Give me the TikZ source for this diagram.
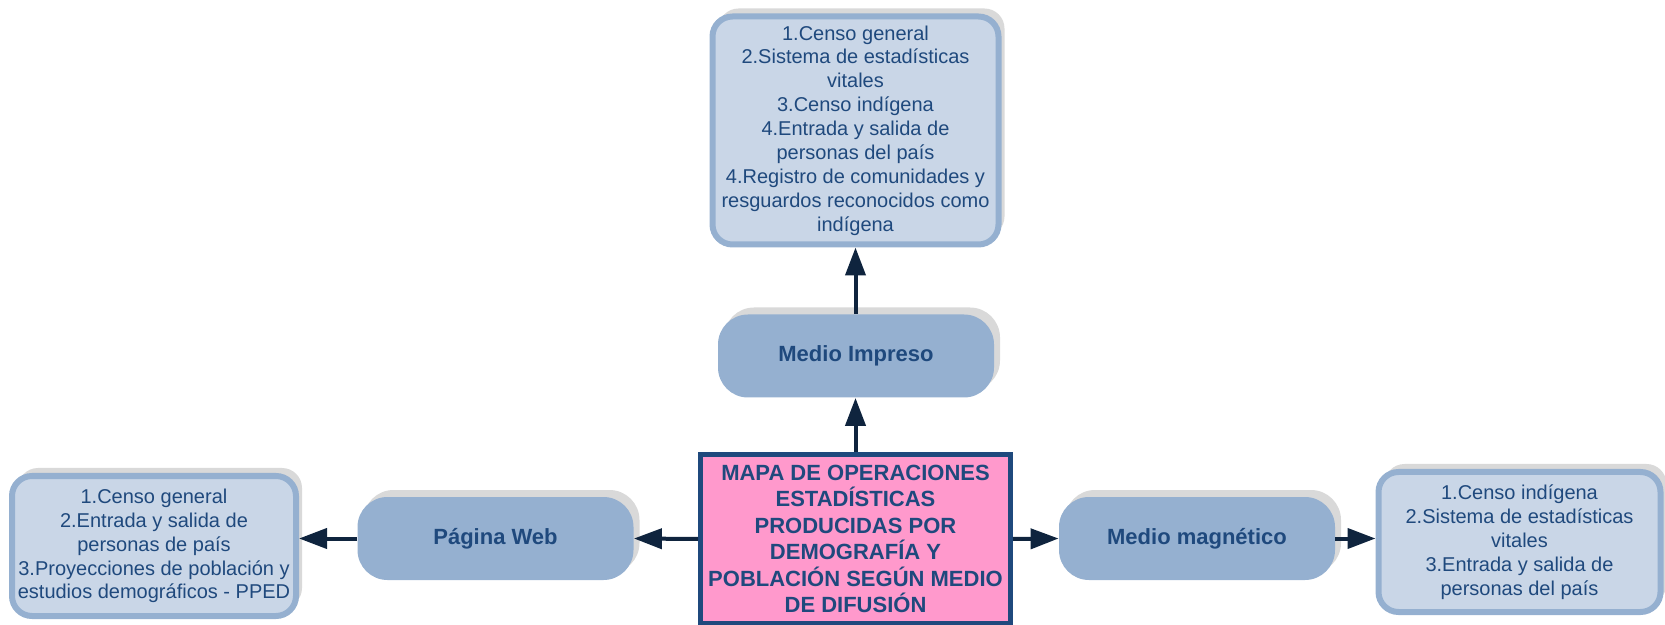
\documentclass[tikz,border=0pt]{standalone}
\usepackage{fontspec}
\setmainfont{Liberation Sans}
\usepackage{tikz}
\usetikzlibrary{arrows.meta}
\usetikzlibrary{shadows}

\definecolor{txtblue}{HTML}{1F497D}
\definecolor{navy}{HTML}{0F243E}
\definecolor{lightfill}{HTML}{C9D6E7}
\definecolor{midfill}{HTML}{95B0D0}
\definecolor{shgray}{HTML}{D9D9D9}
\definecolor{pinkfill}{HTML}{FF99CC}

\begin{document}
\begin{tikzpicture}[x=0.5pt,y=-0.5pt,
    listbox/.style={draw=midfill, line width=3pt, fill=lightfill, rounded corners=10pt,
      align=center, text=txtblue, inner sep=0pt, font=\fontsize{10}{11.95}\selectfont,
      drop shadow={shadow xshift=3pt, shadow yshift=4pt, fill=shgray, opacity=1}},
    mediobox/.style={fill=midfill, rounded corners=15pt, align=center, text=txtblue,
      font=\fontsize{11}{13}\selectfont\bfseries, inner sep=0pt,
      minimum width=138pt, minimum height=41.5pt,
      drop shadow={shadow xshift=3pt, shadow yshift=3.5pt, fill=shgray, opacity=1}},
    conn/.style={draw=navy, line width=2pt, -{Triangle[length=14pt,width=10pt]}}]
  \useasboundingbox (0,0) rectangle (1665,625);

  % centro
  \node[draw=txtblue, line width=2.5pt, fill=pinkfill, align=center, text=txtblue,
    font=\fontsize{11}{13.2}\selectfont\bfseries, inner sep=0pt,
    minimum width=155pt, minimum height=84pt] (mapa) at (855.5,539)
    {MAPA DE OPERACIONES\\ESTAD\'ISTICAS\\PRODUCIDAS POR\\DEMOGRAF\'IA Y\\POBLACI\'ON SEG\'UN MEDIO\\DE DIFUSI\'ON};

  % medios
  \node[mediobox] (impreso) at (856,356) {Medio Impreso};
  \node[mediobox] (web) at (495.5,538.5) {P\'agina Web};
  \node[mediobox] (magnetico) at (1197,538.5) {Medio magn\'etico};

  % listas
  \node[listbox, minimum width=143pt, minimum height=114pt] (impresolist) at (855.5,130.5)
    {1.Censo general\\2.Sistema de estad\'isticas\\vitales\\3.Censo ind\'igena\\4.Entrada y salida de\\personas del pa\'is\\4.Registro de comunidades y\\resguardos reconocidos como\\ind\'igena};
  \node[listbox, minimum width=142pt, minimum height=70pt] (weblist) at (154,546)
    {1.Censo general\\2.Entrada y salida de\\personas de pa\'is\\3.Proyecciones de poblaci\'on y\\estudios demogr\'aficos - PPED};
  \node[listbox, minimum width=141pt, minimum height=70pt] (magneticolist) at (1519.5,542)
    {1.Censo ind\'igena\\2.Sistema de estad\'isticas\\vitales\\3.Entrada y salida de\\personas del pa\'is};

  % flechas
  \draw[conn] (mapa.north) -- (mapa.north |- impreso.south);
  \draw[conn] (mapa.north |- impreso.north) -- (mapa.north |- impresolist.south);
  \draw[conn] (mapa.west) -- (web.east);
  \draw[conn] (web.west) -- (web.west -| weblist.east);
  \draw[conn] (mapa.east) -- (magnetico.west);
  \draw[conn] (magnetico.east) -- (magnetico.east -| magneticolist.west);
\end{tikzpicture}
\end{document}
